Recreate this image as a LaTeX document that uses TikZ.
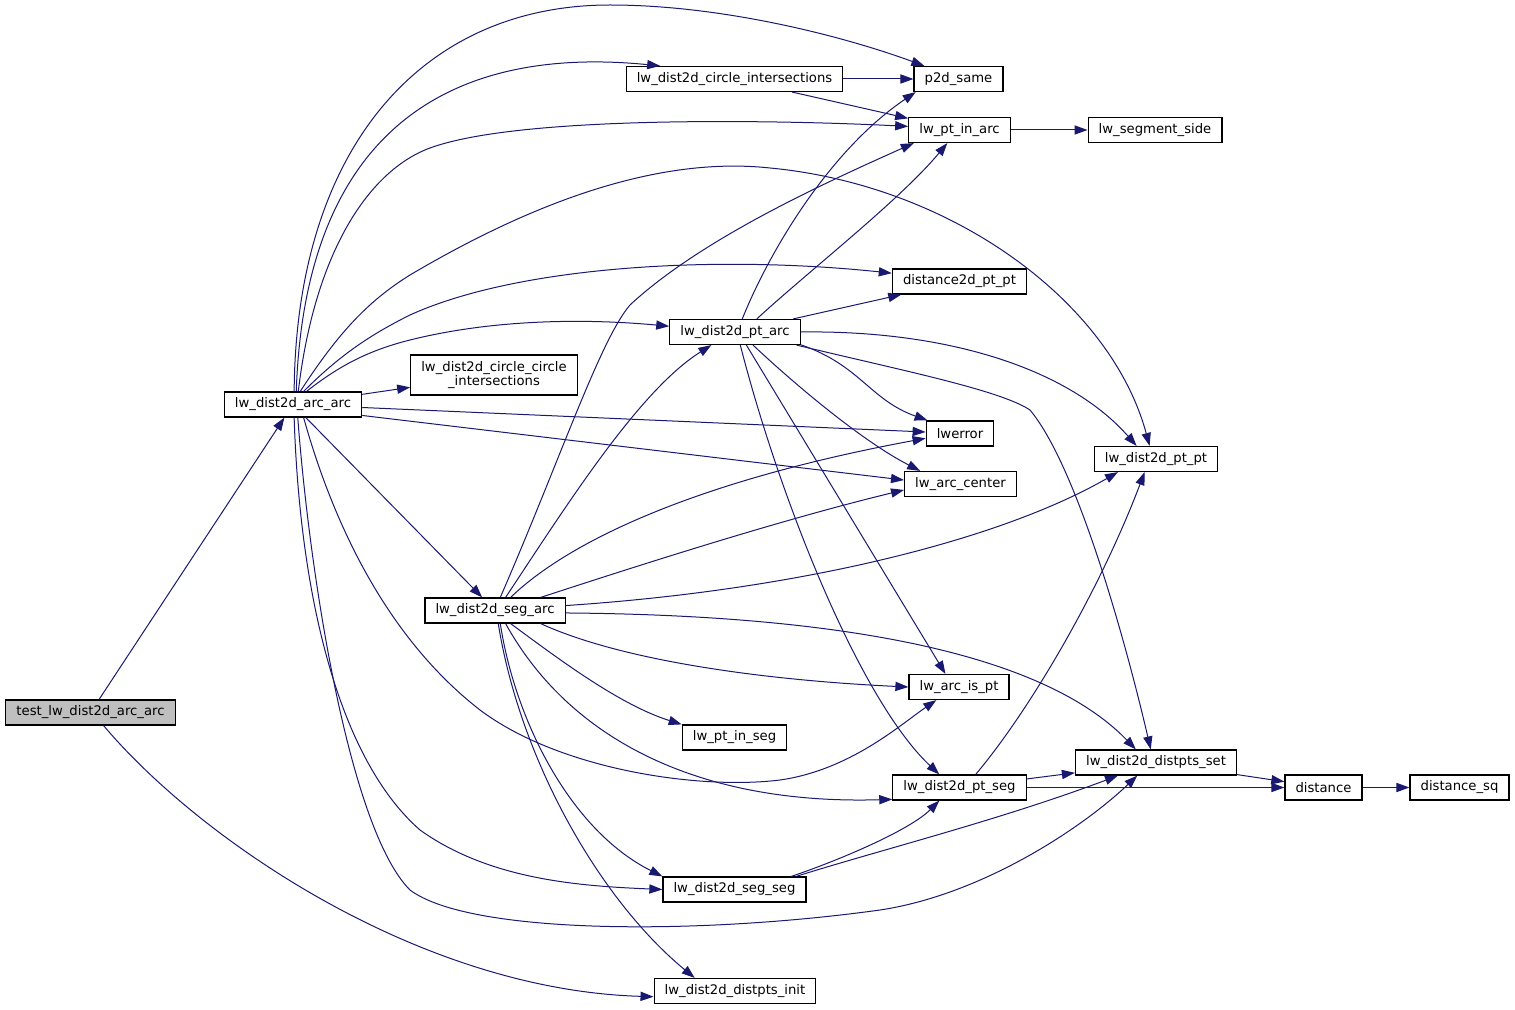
\documentclass[tikz,border=0pt]{standalone}
\usepackage{fontspec}
\newfontfamily\dejavu{DejaVu Sans}
\usetikzlibrary{arrows.meta}
\definecolor{edgeblue}{RGB}{25,25,112}
\begin{document}
\begin{tikzpicture}[x=0.5pt, y=-0.5pt,
        fn/.style={draw=black, line width=0.6pt, fill=white, font=\dejavu\fontsize{6.6}{7.4}\selectfont,
            minimum height=12.5pt, inner xsep=5.3pt, inner ysep=0pt, align=center},
        root/.style={fn, fill=black!25},
        call/.style={edgeblue, line width=0.5pt, -{Triangle[length=6.5pt, width=4.6pt]}}]
        \useasboundingbox (0,0) rectangle (1515,1010);

        \node[root] (test) at (90.5,712.5) {test\_lw\_dist2d\_arc\_arc};
        \node[fn] (arcarc) at (293,404.5) {lw\_dist2d\_arc\_arc};
        \node[fn, minimum height=20pt] (ccinter) at (494,375) {lw\_dist2d\_circle\_circle\\\_intersections};
        \node[fn] (segarc) at (495,610.5) {lw\_dist2d\_seg\_arc};
        \node[fn] (cinter) at (734.5,79) {lw\_dist2d\_circle\_intersections};
        \node[fn] (ptarc) at (735,332) {lw\_dist2d\_pt\_arc};
        \node[fn] (ptinseg) at (734.5,737.5) {lw\_pt\_in\_seg};
        \node[fn] (segseg) at (734.5,889.5) {lw\_dist2d\_seg\_seg};
        \node[fn] (init) at (735,991) {lw\_dist2d\_distpts\_init};
        \node[fn] (same) at (958.5,79) {p2d\_same};
        \node[fn] (ptinarc) at (959.5,130) {lw\_pt\_in\_arc};
        \node[fn] (d2dptpt) at (959.5,281.5) {distance2d\_pt\_pt};
        \node[fn] (lwerror) at (960,433.5) {lwerror};
        \node[fn] (arccenter) at (960.5,484) {lw\_arc\_center};
        \node[fn] (arcispt) at (959,687) {lw\_arc\_is\_pt};
        \node[fn] (ptseg) at (959.5,787.5) {lw\_dist2d\_pt\_seg};
        \node[fn] (side) at (1155,130) {lw\_segment\_side};
        \node[fn] (ptpt) at (1156,459) {lw\_dist2d\_pt\_pt};
        \node[fn] (set) at (1156,762.5) {lw\_dist2d\_distpts\_set};
        \node[fn] (dist) at (1323.5,787.5) {distance};
        \node[fn] (distsq) at (1459.5,787.5) {distance\_sq};

        \draw[call] (test) -- (arcarc);
        \draw[call] (test.-45) .. controls (200,840) and (420,990) .. (init.184);

        \draw[call] (arcarc.85) .. controls (296,150) and (420,5) .. (610,5) .. controls (720,5) and (840,35) .. (same.159);
        \draw[call] (arcarc.76) .. controls (305,130) and (450,45) .. (cinter.170);
        \draw[call] (arcarc.68) .. controls (315,250) and (370,170) .. (430,148) .. controls (520,115) and (780,120) .. (ptinarc.176);
        \draw[call] (arcarc.61) .. controls (340,330) and (370,300) .. (410,275) .. controls (520,210) and (650,155) .. (770,168) .. controls (950,185) and (1110,300) .. (ptpt.116);
        \draw[call] (arcarc.51) .. controls (340,355) and (370,335) .. (410,315) .. controls (520,265) and (720,255) .. (d2dptpt.173);
        \draw[call] (arcarc.44) .. controls (340,365) and (370,350) .. (410,340) .. controls (490,320) and (580,318) .. (ptarc.175);
        \draw[call] (arcarc) -- (ccinter);
        \draw[call] (arcarc) -- (lwerror);
        \draw[call] (arcarc.-9) -- (arccenter.176);
        \draw[call] (arcarc) -- (segarc);
        \draw[call] (arcarc.-51) .. controls (335,530) and (390,640) .. (480,710) .. controls (560,770) and (700,790) .. (780,780) .. controls (850,770) and (900,725) .. (arcispt.-150);
        \draw[call] (arcarc.-85) .. controls (300,600) and (340,760) .. (420,830) .. controls (490,880) and (580,886) .. (segseg.west);
        \draw[call] (arcarc.-70) .. controls (310,580) and (350,830) .. (410,890) .. controls (470,935) and (700,935) .. (880,910) .. controls (980,895) and (1080,830) .. (set.-145);

        \draw[call] (cinter) -- (same);
        \draw[call] (cinter) -- (ptinarc);
        \draw[call] (ptinarc) -- (side);

        \draw[call] (ptarc.61) .. controls (770,250) and (830,150) .. (same.-163);
        \draw[call] (ptarc.31) .. controls (810,270) and (900,200) .. (ptinarc.-133);
        \draw[call] (ptarc) -- (d2dptpt);
        \draw[call] (ptarc.east) .. controls (950,330) and (1070,370) .. (ptpt.146);
        \draw[call] (ptarc.-12) .. controls (900,370) and (1000,390) .. (1030,410) .. controls (1080,470) and (1130,660) .. (set.112);
        \draw[call] (ptarc.-11) .. controls (860,365) and (870,400) .. (lwerror.158);
        \draw[call] (ptarc.-36) .. controls (790,380) and (860,440) .. (arccenter.162);
        \draw[call] (ptarc.-49) -- (arcispt.136);
        \draw[call] (ptarc.-68) .. controls (780,500) and (860,700) .. (ptseg.147);

        \draw[call] (segarc.68) .. controls (560,460) and (600,340) .. (630,305) .. controls (700,240) and (820,185) .. (ptinarc.-164);
        \draw[call] (segarc.51) .. controls (570,500) and (640,390) .. (ptarc.-151);
        \draw[call] (segarc.40) .. controls (570,540) and (700,480) .. (lwerror.188);
        \draw[call] (segarc.16) .. controls (640,565) and (780,520) .. (arccenter.186);
        \draw[call] (segarc.4) .. controls (800,590) and (1000,540) .. (ptpt.-161);
        \draw[call] (segarc.-2) .. controls (830,615) and (1040,650) .. (set.147);
        \draw[call] (segarc.-16) .. controls (620,660) and (760,680) .. (arcispt.west);
        \draw[call] (segarc.-40) .. controls (560,660) and (620,705) .. (ptinseg.north west);
        \draw[call] (segarc.-51) .. controls (570,740) and (700,805) .. (ptseg.190);
        \draw[call] (segarc.-68) .. controls (515,720) and (570,830) .. (segseg.north west);
        \draw[call] (segarc.-76) .. controls (520,760) and (600,900) .. (init.162);

        \draw[call] (ptseg) -- (set);
        \draw[call] (ptseg) -- (dist);
        \draw[call] (ptseg.39) .. controls (1030,710) and (1100,590) .. (ptpt.-131);
        \draw[call] (segseg.13) .. controls (840,860) and (910,830) .. (ptseg.-147);
        \draw[call] (segseg.12) .. controls (880,850) and (1000,820) .. (set.-161);
        \draw[call] (set) -- (dist);
        \draw[call] (dist) -- (distsq);

    \end{tikzpicture}
\end{document}
